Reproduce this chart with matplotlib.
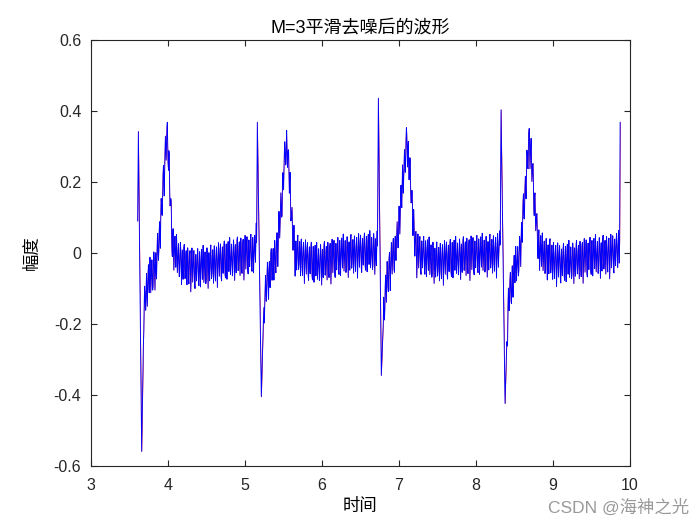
import numpy as np
import matplotlib
matplotlib.use("Agg")
import matplotlib.pyplot as plt

plt.rcParams['font.family'] = ['Liberation Sans', 'Noto Sans CJK SC', 'DejaVu Sans']

# QRS spikes (time, amplitude) for each beat
qrs_t = [[3.606, 3.615, 3.658, 3.679],
         [5.150, 5.160, 5.212, 5.238],
         [6.720, 6.732, 6.770, 6.796],
         [8.315, 8.325, 8.377, 8.400],
         [9.865, 9.872]]
qrs_y = [[0.09, 0.342, -0.559, -0.27],
         [0.03, 0.368, -0.405, -0.195],
         [0.02, 0.436, -0.345, -0.195],
         [0.03, 0.403, -0.424, -0.25],
         [0.03, 0.368]]

# slow part of the waveform (centre of the noisy band)
wave_t = [3.70, 3.75, 3.85, 3.90, 3.93, 3.975, 3.99, 4.01, 4.03, 4.05, 4.08, 4.20, 4.35, 4.60, 4.90, 5.13,
          5.27, 5.33, 5.41, 5.455, 5.50, 5.53, 5.55, 5.585, 5.62, 5.65, 5.80, 5.93, 6.30, 6.70,
          6.83, 6.88, 6.97, 7.035, 7.09, 7.11, 7.16, 7.195, 7.23, 7.50, 7.80, 8.30,
          8.42, 8.485, 8.57, 8.636, 8.68, 8.70, 8.753, 8.788, 8.83, 9.09, 9.50, 9.83]
wave_y = [-0.12, -0.08, -0.03, 0.065, 0.17, 0.30, 0.32, 0.28, 0.14, 0.05, 0.0, -0.03, -0.045, -0.03, -0.01, 0.0,
          -0.09, -0.05, 0.0, 0.09, 0.21, 0.30, 0.30, 0.17, 0.06, 0.0, -0.02, -0.03, -0.005, 0.005,
          -0.09, -0.04, 0.02, 0.16, 0.30, 0.31, 0.17, 0.06, 0.0, -0.025, -0.01, 0.0,
          -0.14, -0.065, 0.0, 0.16, 0.30, 0.31, 0.17, 0.06, 0.0, -0.03, -0.01, 0.0]

# residual ripple left after smoothing (one sample every 5 ms), irregular cycles
ripple = [0.000, 0.040, 0.055, 0.005, -0.040, -0.050,
          0.010, 0.045, -0.010, -0.055,
          -0.005, 0.030, 0.050, 0.000, -0.035,
          0.020, 0.060, 0.015, -0.045, -0.020,
          0.010, 0.040, -0.005, -0.050, -0.040,
          0.015, 0.050, 0.030, -0.015, -0.065,
          0.000, 0.035, -0.020, -0.045,
          0.005, 0.045, 0.055, -0.010, -0.040, -0.025,
          0.025, 0.040, -0.015, -0.055,
          0.010, 0.050, 0.020, -0.030, -0.050,
          0.000, 0.035, 0.045, -0.005, -0.070, -0.020,
          0.020, 0.055, 0.010, -0.040,
          -0.005, 0.035, 0.050, 0.000, -0.045, -0.055,
          0.015, 0.040, -0.010, -0.035]
dt = 0.005

xticks = [3, 4, 5, 6, 7, 8, 9, 10]
yticks = [-0.6, -0.4, -0.2, 0, 0.2, 0.4, 0.6]
ylabels = ['-0.6', '-0.4', '-0.2', '0', '0.2', '0.4', '0.6']

st = np.concatenate([np.array(q) for q in qrs_t])
sy = np.concatenate([np.array(q) for q in qrs_y])
kt = np.concatenate([st, wave_t])
ky = np.concatenate([sy, wave_y])
o = np.argsort(kt)
kt, ky = kt[o], ky[o]

grid = np.arange(kt[0], kt[-1], dt)
keep = np.ones(len(grid), bool)
for q in qrs_t:
    keep &= ~((grid >= q[0] - 0.004) & (grid <= q[-1] + 0.004))
grid = grid[keep]
gy = np.interp(grid, kt, ky) + np.resize(ripple, len(grid))


def merge(spike_shift):
    t = np.concatenate([grid, st + spike_shift])
    y = np.concatenate([gy, sy])
    o = np.argsort(t)
    return t[o], y[o]


t_orig, y_orig = merge(0.003)
t_s, y_s = merge(0.0)

fig = plt.figure(figsize=(7, 5.25), dpi=100)
ax = fig.add_axes([0.13, 0.1124, 0.77, 0.8115])
ax.plot(t_orig, y_orig, color='r', linewidth=0.4)
ax.plot(t_s, y_s, color='b', linewidth=0.65)

ax.set_xlim(3, 10)
ax.set_ylim(-0.6, 0.6)
ax.set_xticks(xticks)
ax.set_yticks(yticks)
ax.set_yticklabels(ylabels)
ax.tick_params(direction='in', top=True, right=True, length=4, labelsize=11.5, colors='#262626')
ax.tick_params(axis='x', pad=9)
ax.tick_params(axis='y', pad=7)
for s in ax.spines.values():
    s.set_color('#262626')
    s.set_linewidth(0.8)

ax.set_title('M=3平滑去噪后的波形', fontsize=13, pad=5)
ax.set_xlabel('时间', fontsize=12.5, labelpad=3)
ax.set_ylabel('幅度', fontsize=12.5, labelpad=10)
fig.text(0.985, 0.018, 'CSDN @海神之光', fontsize=12.5, color='#999999', ha='right', va='bottom')

fig.savefig('out.png')
